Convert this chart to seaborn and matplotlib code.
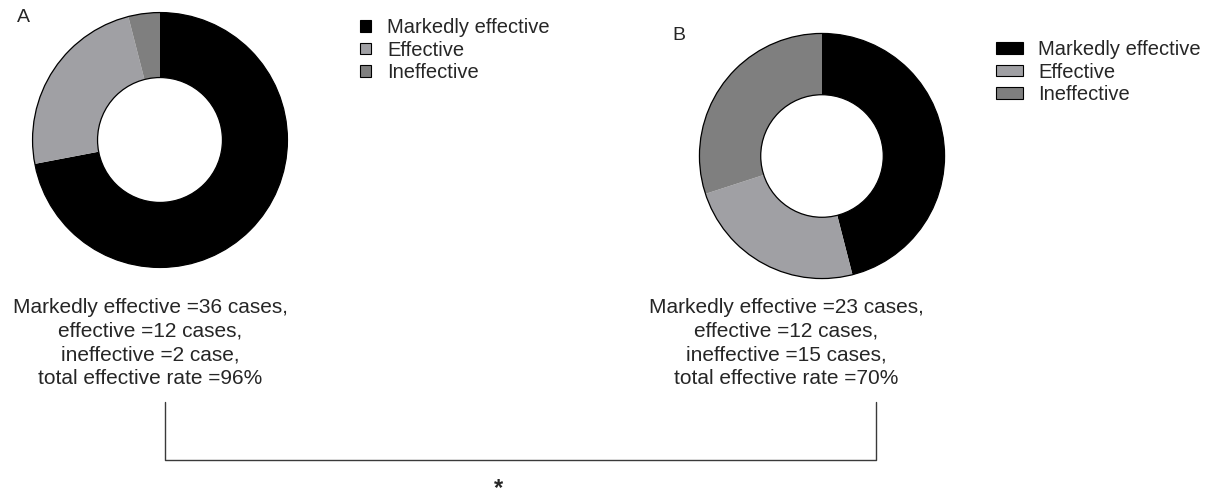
"""
Two donut charts comparing treatment efficacy between group A and group B,
with case-count summaries and a significance bracket underneath.
"""

import matplotlib.pyplot as plt
import seaborn as sns
from matplotlib.patches import Circle, Patch

categories = ["Markedly effective", "Effective", "Ineffective"]
cases_a = [36, 12, 2]
cases_b = [23, 12, 15]
rate_a = 96
rate_b = 70
colors = ["#000000", "#a0a0a4", "#7f7f7f"]

W, H = 1208, 493


def px_axes(fig, cx, cy, r):
    """Square axes centred at pixel (cx, cy), measured from the top-left."""
    return fig.add_axes([(cx - r) / W, (H - cy - r) / H, 2 * r / W, 2 * r / H])


def donut(ax, values, hole=0.5):
    ax.pie(values, colors=colors, startangle=90, counterclock=False, radius=1,
           wedgeprops=dict(width=1 - hole, edgecolor="none", linewidth=0))
    ax.add_patch(Circle((0, 0), 1, fill=False, ec="black", lw=0.9))
    ax.add_patch(Circle((0, 0), hole, fill=False, ec="black", lw=0.9))
    ax.set_xlim(-1.02, 1.02)
    ax.set_ylim(-1.02, 1.02)
    ax.set_aspect("equal")
    ax.axis("off")


def add_legend(fig, x, y, hlen, pad):
    handles = [Patch(facecolor=c, edgecolor="black", linewidth=0.8) for c in colors]
    fig.legend(handles, categories, loc="upper left",
               bbox_to_anchor=(x / W, 1 - y / H), frameon=False, fontsize=14.5,
               handlelength=hlen, handleheight=0.5, handletextpad=pad,
               labelspacing=0.18, borderpad=0, borderaxespad=0)


def summary(values, rate):
    unit = lambda n: "case" if n <= 2 else "cases"
    return (f"Markedly effective ={values[0]} {unit(values[0])},\n"
            f"effective ={values[1]} {unit(values[1])},\n"
            f"ineffective ={values[2]} {unit(values[2])},\n"
            f"total effective rate ={rate}%")


sns.set_theme(style="white")
plt.rcParams["font.family"] = ["Liberation Sans", "DejaVu Sans"]

fig = plt.figure(figsize=(W / 100, H / 100), dpi=100)

# overlay in pixel coordinates for the bracket and star
over = fig.add_axes([0, 0, 1, 1])
over.set_xlim(0, W)
over.set_ylim(H, 0)
over.axis("off")
over.plot([165, 165, 876, 876], [402, 460, 460, 402], color="#3a3a3a", lw=1)
over.text(498, 486, "*", fontsize=17, fontweight="bold", ha="center",
          va="center_baseline")

ax_a = px_axes(fig, 160, 140, 130)
donut(ax_a, cases_a, hole=0.49)
ax_b = px_axes(fig, 822, 156, 125)
donut(ax_b, cases_b, hole=0.5)

fig.text(23 / W, 1 - 17 / H, "A", fontsize=14, ha="center", va="center")
fig.text(679 / W, 1 - 35 / H, "B", fontsize=14, ha="center", va="center")

add_legend(fig, 360, 18, 0.55, 0.8)
add_legend(fig, 996, 40, 1.35, 0.75)

fig.text(150 / W, 1 - 343 / H, summary(cases_a, rate_a), fontsize=15,
         ha="center", va="center", linespacing=1.3)
fig.text(786 / W, 1 - 343 / H, summary(cases_b, rate_b), fontsize=15,
         ha="center", va="center", linespacing=1.3)

fig.savefig("out.png", dpi=100)
